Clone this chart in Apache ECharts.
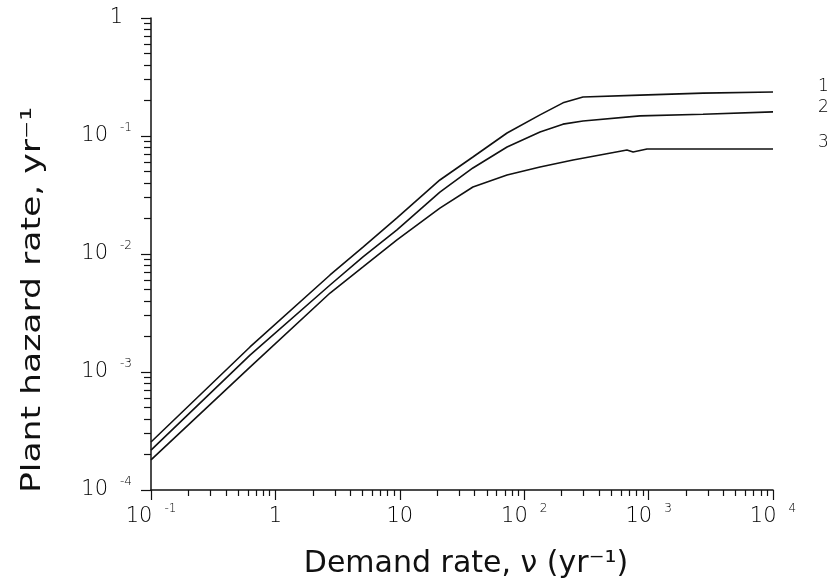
<!DOCTYPE html>
<html><head><meta charset="utf-8">
<script src="https://cdn.jsdelivr.net/npm/echarts@6/dist/echarts.min.js"></script>
<style>html,body{margin:0;padding:0;background:#fff}#c{width:832px;height:582px}</style>
</head><body><div id="c"></div>
<script>
// Curve 1 (top)
const curve1X = [0.1, 0.625, 2.75, 5.06, 9.49, 21, 38.7, 72.8, 134, 205, 297, 853, 2737, 10000];
const curve1Y = [2.55e-4, 1.63e-3, 6.64e-3, 1.145e-2, 2.02e-2, 4.24e-2, 6.64e-2, 0.106, 0.151, 0.191, 0.214, 0.222, 0.231, 0.236];
// Curve 2 (middle)
const curve2X = [0.1, 0.625, 2.75, 5.06, 9.49, 21, 38.7, 72.8, 134, 205, 297, 853, 2737, 10000];
const curve2Y = [2.18e-4, 1.39e-3, 5.46e-3, 9.44e-3, 1.60e-2, 3.35e-2, 5.36e-2, 8.07e-2, 0.108, 0.126, 0.134, 0.148, 0.153, 0.160];
// Curve 3 (bottom)
const curve3X = [0.1, 0.625, 2.75, 5.06, 9.49, 21, 38.7, 72.8, 134, 247, 407, 670, 750, 971, 2737, 10000];
const curve3Y = [1.80e-4, 1.10e-3, 4.67e-3, 7.76e-3, 1.32e-2, 2.45e-2, 3.70e-2, 4.67e-2, 5.46e-2, 6.27e-2, 6.90e-2, 7.60e-2, 7.31e-2, 7.76e-2, 7.76e-2, 7.76e-2];
const curveNames = ['1', '2', '3'];

// Axis ticks and labels
const xMajorTicks = [0.1, 1, 10, 100, 1000, 10000];
const xTickBase = ['10', '1', '10', '10', '10', '10'];
const xTickExp = ['-1', '', '', '2', '3', '4'];
const yMajorTicks = [1e-4, 1e-3, 1e-2, 1e-1, 1];
const yTickBase = ['10', '10', '10', '10', '1'];
const yTickExp = ['-4', '-3', '-2', '-1', ''];
const minorMultipliers = [2, 3, 4, 5, 6, 7, 8, 9];

const xTitle = 'Demand rate, ν (yr⁻¹)';
const yTitle = 'Plant hazard rate, yr⁻¹';

function minorTicks(majors) {
  const out = [];
  for (let i = 0; i < majors.length - 1; i++) {
    for (const m of minorMultipliers) out.push(majors[i] * m);
  }
  return out;
}
function labelFor(v, ticks, base, exp, loneStyle) {
  let idx = -1;
  for (let i = 0; i < ticks.length; i++) {
    if (Math.abs(Math.log10(v) - Math.log10(ticks[i])) < 1e-6) idx = i;
  }
  if (idx < 0) return '';
  return exp[idx] ? '{b|' + base[idx] + '}{e|' + exp[idx] + '}' : '{' + loneStyle + '|' + base[idx] + '}';
}
const FONT = 'DejaVu Sans';
const TXT = '#000';
const rich = {
  b: { fontSize: 21, fontFamily: FONT, fontWeight: 200, color: TXT, lineHeight: 28 },
  b1: { fontSize: 21, fontFamily: FONT, fontWeight: 200, color: TXT, lineHeight: 28, padding: [0, 9, 0, 0] },
  e: { fontSize: 12, fontFamily: FONT, fontWeight: 200, color: TXT, lineHeight: 13, verticalAlign: 'top', padding: [0, 0, 0, 12] }
};
const pairs = (xs, ys) => xs.map((x, i) => [x, ys[i]]);
const lineCol = '#111';

const chart = echarts.init(document.getElementById('c'), null, { renderer: 'canvas' });
const labelOffsets = [[0, -5], [0, -4], [0, -6]];
const seriesData = [pairs(curve1X, curve1Y), pairs(curve2X, curve2Y), pairs(curve3X, curve3Y)];

chart.setOption({
  animation: false,
  backgroundColor: '#fff',
  grid: { left: 151, right: 59, top: 18, bottom: 92 },
  graphic: [{
    type: 'text', x: 466, y: 564,
    style: { text: xTitle, font: '30px "DejaVu Sans"', fill: '#111', align: 'center', verticalAlign: 'middle', textAlign: 'center', textVerticalAlign: 'middle' }
  }, {
    type: 'text', x: 33, y: 300, rotation: Math.PI / 2, scaleX: 1.33,
    style: { text: yTitle, font: '26px "DejaVu Sans"', fill: '#111', align: 'center', verticalAlign: 'middle', textAlign: 'center', textVerticalAlign: 'middle' }
  }],
  xAxis: [{
    type: 'log', logBase: 10, min: 0.1, max: 10000,
    axisLine: { show: true, lineStyle: { color: lineCol, width: 1.5 } },
    axisTick: { show: true, inside: false, length: 10, customValues: xMajorTicks, lineStyle: { color: lineCol, width: 1.2 } },
    axisLabel: { show: true, margin: 13, customValues: xMajorTicks, rich: rich,
      formatter: v => labelFor(v, xMajorTicks, xTickBase, xTickExp, 'b') },
    splitLine: { show: false }, minorTick: { show: false }
  }, {
    type: 'log', logBase: 10, min: 0.1, max: 10000, position: 'bottom',
    axisLine: { show: false },
    axisTick: { show: true, inside: false, length: 6, customValues: minorTicks(xMajorTicks), lineStyle: { color: lineCol, width: 1.2 } },
    axisLabel: { show: false }, splitLine: { show: false }
  }],
  yAxis: [{
    type: 'log', logBase: 10, min: 1e-4, max: 1,
    axisLine: { show: true, lineStyle: { color: lineCol, width: 1.5 } },
    axisTick: { show: true, inside: false, length: 10, customValues: yMajorTicks, lineStyle: { color: lineCol, width: 1.2 } },
    axisLabel: { show: true, margin: 19, customValues: yMajorTicks, rich: rich,
      formatter: v => labelFor(v, yMajorTicks, yTickBase, yTickExp, 'b1') },
    splitLine: { show: false }
  }, {
    type: 'log', logBase: 10, min: 1e-4, max: 1, position: 'left',
    axisLine: { show: false },
    axisTick: { show: true, inside: false, length: 7, customValues: minorTicks(yMajorTicks), lineStyle: { color: lineCol, width: 1.2 } },
    axisLabel: { show: false }, splitLine: { show: false }
  }],
  series: seriesData.map((d, i) => ({
    type: 'line', name: curveNames[i], data: d, xAxisIndex: 0, yAxisIndex: 0,
    showSymbol: false, symbol: 'none', smooth: false,
    lineStyle: { color: lineCol, width: 1.6 },
    endLabel: { show: true, formatter: curveNames[i], distance: 45, offset: labelOffsets[i],
      fontFamily: FONT, fontWeight: 200, fontSize: 17, color: TXT }
  }))
});
</script>
</body></html>
